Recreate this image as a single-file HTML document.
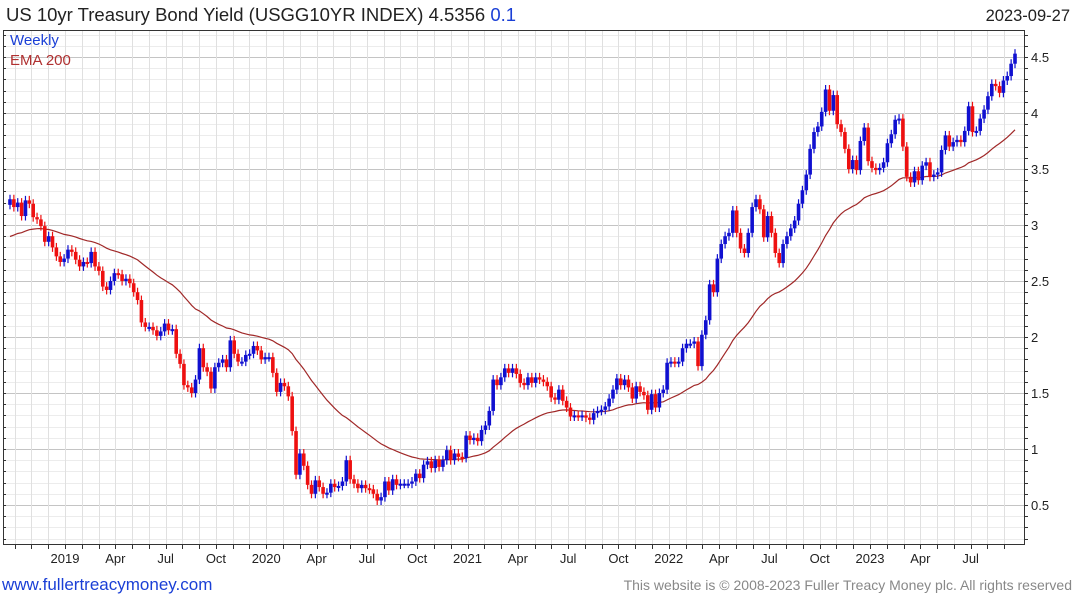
<!DOCTYPE html>
<html><head><meta charset="utf-8"><style>
body{margin:0;background:#fff;width:1075px;height:600px;overflow:hidden;font-family:"Liberation Sans",sans-serif}
</style></head><body>
<svg id="chart" width="1075" height="600" xmlns="http://www.w3.org/2000/svg" font-family="Liberation Sans, sans-serif">
<text x="6" y="21" font-size="18.5" fill="#222">US 10yr Treasury Bond Yield (USGG10YR INDEX) 4.5356 <tspan fill="#1a3fd6">0.1</tspan></text>
<text x="1070" y="21" font-size="16.5" fill="#222" text-anchor="end">2023-09-27</text>
<g id="grid"></g>
<g id="marks"></g>
<rect x="3.5" y="30.5" width="1021" height="514" fill="none" stroke="#333" stroke-width="1"/>
<g id="axes"></g>
<text x="10" y="45" font-size="15" fill="#1a3fd6">Weekly</text>
<text x="10" y="65" font-size="15" fill="#b03030">EMA 200</text>
<text x="2" y="590" font-size="17" fill="#1a3fd6">www.fullertreacymoney.com</text>
<text x="1072" y="590" font-size="14" fill="#888" text-anchor="end">This website is © 2008-2023 Fuller Treacy Money plc. All rights reserved</text>
</svg>
<script>
const closes=[3.23,3.16,3.20,3.08,3.22,3.19,3.07,3.05,2.99,2.85,
2.90,2.80,2.72,2.67,2.70,2.78,2.76,2.69,2.63,2.67,
2.66,2.76,2.63,2.59,2.45,2.42,2.50,2.57,2.56,2.50,
2.52,2.48,2.40,2.33,2.13,2.09,2.09,2.06,2.01,2.05,
2.12,2.06,2.07,1.85,1.76,1.57,1.55,1.50,1.62,1.90,
1.73,1.69,1.54,1.73,1.77,1.80,1.73,1.97,1.85,1.78,
1.78,1.84,1.85,1.92,1.88,1.80,1.82,1.82,1.68,1.51,
1.59,1.56,1.47,1.16,0.77,
0.96,0.85,0.68,0.60,0.72,0.66,0.60,0.61,0.69,0.66,
0.67,0.71,0.90,0.73,0.69,0.65,0.68,0.65,0.64,0.60,
0.54,0.57,0.71,0.63,0.73,0.68,0.69,0.69,0.69,0.71,
0.78,0.74,0.86,0.89,0.83,0.90,0.84,0.90,0.99,0.90,
0.96,0.93,0.92,1.12,1.08,1.10,1.07,1.17,1.21,1.34,
1.62,1.57,1.64,1.72,1.68,1.72,1.67,1.59,1.57,1.64,
1.59,1.64,1.62,1.60,1.56,1.46,1.44,1.53,1.43,1.37,
1.29,1.30,1.29,1.30,1.28,1.26,1.32,1.34,1.35,1.38,
1.45,1.53,1.63,1.57,1.62,1.55,1.45,1.56,1.51,1.48,
1.35,1.49,1.37,
1.50,1.53,1.77,1.78,1.77,1.78,1.90,1.94,1.94,1.96,
1.74,2.02,2.15,2.47,2.40,2.70,2.83,2.90,2.93,3.13,
2.93,2.79,2.75,2.93,3.16,3.23,3.14,2.89,3.08,2.93,
2.75,2.66,2.83,2.90,2.97,3.04,3.19,3.31,3.45,3.68,
3.83,3.88,4.01,4.21,4.02,4.16,3.90,3.83,3.68,3.50,
3.58,3.49,3.75,3.87,3.57,3.51,3.49,3.51,3.56,3.73,
3.81,3.94,3.95,3.70,3.43,3.38,3.48,3.40,3.53,3.56,
3.43,3.45,3.47,3.67,3.80,3.70,3.74,3.76,3.74,3.84,
4.06,3.83,3.84,3.95,4.03,4.15,4.26,4.24,4.18,4.29,
4.33,4.44,4.53];
const firstOpen=3.18;
const emaSeed=2.88;
const yTicks=[0.5,1,1.5,2,2.5,3,3.5,4,4.5];
const monthLabels=["2019","Apr","Jul","Oct","2020","Apr","Jul","Oct","2021","Apr","Jul","Oct","2022","Apr","Jul","Oct","2023","Apr","Jul"];
const monthLabelIdx=[0,3,6,9,12,15,18,21,24,27,30,33,36,39,42,45,48,51,54];

const NS="http://www.w3.org/2000/svg";
const yS=v=>57+(4.5-v)*112;
const xS=i=>10+i*(1005/(closes.length-1));
const xM=m=>65+m*(201.25/12);
function mk(tag,attrs,parent){const e=document.createElementNS(NS,tag);for(const k in attrs)e.setAttribute(k,attrs[k]);parent.appendChild(e);return e;}
const grid=document.getElementById('grid'),marks=document.getElementById('marks'),axes=document.getElementById('axes');
for(let k=2;k<=47;k++){const v=k/10;const y=Math.round(yS(v))+0.5;const major=k%5===0;
 const l=mk('line',{x1:4,x2:1024,y1:y,y2:y,stroke:major?'#c4c4c4':'#ececec','stroke-width':1},grid);
 
 
 const t=mk('line',{x1:1024,x2:1028,y1:y,y2:y,stroke:'#333'},axes);
 
 
 const t2=mk('line',{x1:3,x2:6,y1:y,y2:y,stroke:'#333'},axes);
 
 }
yTicks.forEach(v=>{const t=mk('text',{x:1031,y:yS(v)+5,'font-size':13,fill:'#222'},axes);t.textContent=String(v);
 
 });
for(let m=-3;m<=56;m++){const x=Math.round(xM(m))+0.5;
 const g=mk('line',{x1:x,x2:x,y1:31,y2:544,stroke:'#e0e0e0'},grid);
 
 
 const t=mk('line',{x1:x,x2:x,y1:545,y2:549,stroke:'#333'},axes);
 
 }
monthLabels.forEach((s,i)=>{const t=mk('text',{x:xM(monthLabelIdx[i]),y:563,'font-size':13,fill:'#222','text-anchor':'middle'},axes);t.textContent=s;
 
 });
let ema=emaSeed;const a=2/41;let pts=[];
closes.forEach((c,i)=>{ema=ema+a*(c-ema);pts.push(xS(i).toFixed(1)+','+yS(ema).toFixed(1));});
const pl=mk('polyline',{points:pts.join(' '),fill:'none',stroke:'#a02828','stroke-width':1.2},marks);


closes.forEach((c,i)=>{const o=i===0?firstOpen:closes[i-1];const up=c>=o;const col=up?'#1010d0':'#ee1010';
 const hi=Math.max(o,c)+0.04,lo=Math.min(o,c)-0.04;const x=xS(i);
 const w=mk('line',{x1:x,x2:x,y1:yS(hi),y2:yS(lo),stroke:col,'stroke-width':1.2},marks);
 
 
 const top=yS(Math.max(o,c)),h=Math.max(2,yS(Math.min(o,c))-top);
 const b=mk('rect',{x:x-1.8,y:top,width:3.6,height:h,fill:col},marks);
 
 });
</script>
</body></html>
